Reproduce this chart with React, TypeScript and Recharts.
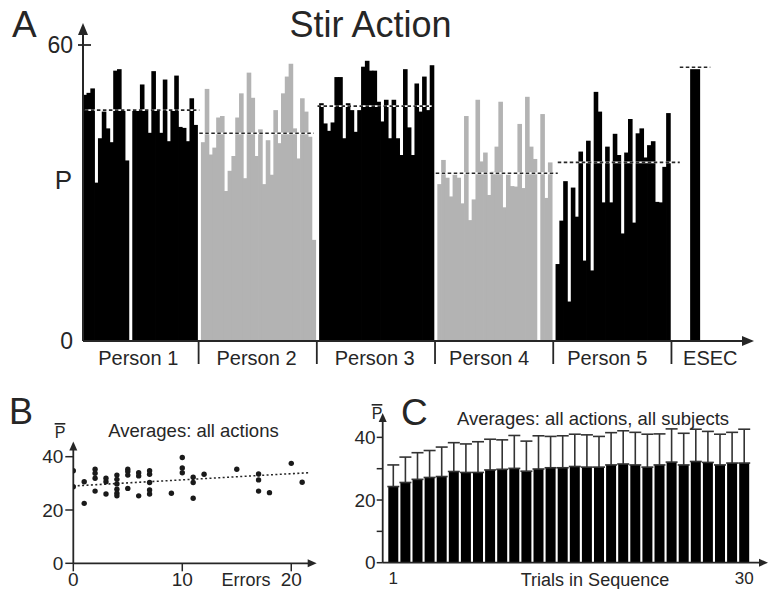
import React from 'react'
import {
	BarChart,
	Bar,
	XAxis,
	YAxis,
	ReferenceLine,
	ScatterChart,
	Scatter,
	ErrorBar,
} from 'recharts'

const ink = '#262626'
const gray = '#b3b3b3'
const font = '"Liberation Sans", Arial, Helvetica, sans-serif'

// Panel A: P for each of 30 trials, per subject
const person1 = [49.9, 50.3, 51.2, 32.1, 41.1, 46.5, 43.1, 40.3, 54.8, 55.1, 46.8, 36.6, 0, 46.8, 46.8, 52.0, 46.8, 42.2, 54.7, 46.8, 42.2, 53.0, 40.5, 46.8, 53.8, 43.4, 43.2, 40.5, 49.2, 43.8]
const person2 = [40.3, 51.1, 37.8, 39.2, 45.3, 45.6, 30.4, 34.5, 37.5, 45.3, 50.2, 33.0, 54.4, 49.3, 37.5, 42.9, 31.8, 40.7, 33.7, 46.8, 40.1, 50.2, 53.6, 56.2, 43.1, 37.0, 49.2, 46.5, 41.4, 20.5]
const person3 = [48.2, 44.1, 42.6, 44.3, 53.5, 53.5, 41.1, 48.2, 46.8, 42.4, 46.8, 55.6, 56.8, 54.8, 54.8, 48.5, 44.5, 48.9, 41.1, 48.9, 41.1, 37.7, 55.1, 43.3, 37.7, 52.2, 46.5, 53.6, 46.8, 55.9]
const person4 = [31.8, 36.7, 33.1, 29.3, 33.7, 33.1, 27.9, 45.6, 24.5, 28.7, 48.9, 36.4, 38.2, 29.6, 34.3, 39.4, 48.5, 27.1, 33.7, 31.4, 31.3, 44.0, 31.0, 49.5, 39.4, 36.9, 0, 46.0, 29.0, 36.2]
const person5 = [15.6, 24.4, 32.4, 8.0, 31.1, 25.2, 38.4, 16.3, 40.6, 14.3, 50.5, 46.5, 28.1, 39.4, 28.1, 42.0, 37.7, 21.8, 38.2, 45.0, 24.0, 42.1, 43.1, 37.2, 39.7, 40.5, 28.2, 28.1, 35.3, 46.2]
const esecValue = 55.1

// dashed averages (subject 1..5, ESEC) and the slots they span
const meanValues = [46.8, 42.1, 47.6, 34.0, 36.2, 55.5]
const meanFrom = [0, 30, 61, 92, 124, 156]
const meanTo = [30, 60, 91, 124, 156, 164]

const groupLabels: Record<number, string> = {
	14: 'Person 1',
	45: 'Person 2',
	76: 'Person 3',
	106: 'Person 4',
	137: 'Person 5',
	164: 'ESEC',
}
const separators = [30, 61, 92, 123, 154]

// Panel B: average P against number of errors
const errorsX = [0, 0, 1, 1, 2, 2, 2, 2, 3, 3, 3, 4, 4, 4, 4, 4, 4, 5, 5, 5, 5, 6, 6, 6, 7, 7, 7, 7, 7, 9, 10, 10, 10, 11, 11, 11, 12, 15, 17, 17, 17, 18, 20, 21]
const avgP = [34.7, 28.7, 30.6, 22.5, 35.3, 33.8, 31.9, 27.1, 31.9, 30.6, 26.0, 33.1, 31.5, 29.8, 27.8, 26.3, 25.3, 35.3, 34.4, 33.1, 28.1, 34.0, 32.8, 25.3, 34.7, 33.4, 30.3, 27.5, 26.0, 26.3, 39.7, 35.8, 34.0, 32.3, 30.3, 24.4, 33.4, 35.3, 33.5, 31.3, 27.1, 26.5, 37.5, 30.4]
const trendStart = [0, 29.0]
const trendEnd = [21.6, 34.0]

// Panel C: average P per trial position, with SD
const trialMeans = [24.3, 25.6, 26.6, 27.2, 27.5, 29.1, 28.8, 28.8, 29.6, 29.8, 30.1, 29.2, 29.9, 30.3, 30.3, 30.7, 30.5, 30.5, 31.2, 31.5, 31.2, 30.5, 31.2, 32.1, 31.2, 32.3, 32.0, 31.2, 31.8, 31.8]
const trialSD = [6.9, 8.1, 8.5, 8.6, 9.4, 9.2, 9.1, 9.8, 9.8, 9.4, 10.5, 9.6, 10.6, 10.0, 10.2, 10.3, 10.3, 9.8, 10.3, 10.6, 10.4, 10.5, 9.9, 10.6, 10.1, 10.3, 9.9, 9.8, 9.8, 10.8]

// one slot per trial, an empty slot between subjects, then ESEC
const stirData: { i: number; v: number | null; g: number; esec?: boolean }[] = []
;[person1, person2, person3, person4, person5].forEach((vals, g) => {
	vals.forEach((v) => stirData.push({ i: stirData.length, v, g }))
	stirData.push({ i: stirData.length, v: null, g: -1 })
})
while (stirData.length < 160) stirData.push({ i: stirData.length, v: null, g: -1 })
stirData.push({ i: stirData.length, v: esecValue, g: 5, esec: true })
while (stirData.length < 173) stirData.push({ i: stirData.length, v: null, g: -1 })

const scatterData = errorsX.map((x, k) => ({ x, y: avgP[k] }))
// only the upper half of the SD bar shows above the bars
const trialData = trialMeans.map((mean, k) => ({ trial: k + 1, mean, sd: [0, trialSD[k]] }))

// arrow heads at the axis ends: tip x, tip y, direction
const arrowHeads: [number, number, 'up' | 'right', number, number][] = [
	[83, 23, 'up', 12, 5],
	[754, 341, 'right', 12, 5],
	[73.3, 441.5, 'up', 9, 4],
	[316.7, 563.3, 'right', 9, 4],
	[382.7, 413, 'up', 9, 4],
	[768, 562.7, 'right', 9, 4],
]

const StirBar = (props: any) => {
	const { x, y, width, height, payload } = props
	if (!height || height <= 0) return null
	if (payload.esec) {
		const cx = x + width / 2
		return <rect x={cx - 5} y={y} width={10} height={height} fill='#000' />
	}
	const fill = payload.g === 1 || payload.g === 3 ? gray : '#000'
	return <rect x={x - 0.3} y={y} width={width + 0.6} height={height} fill={fill} />
}

const PersonTick = (props: any) => {
	const { x, y, payload } = props
	const label = groupLabels[payload.value]
	if (label)
		return (
			<text x={x} y={y + 24} textAnchor='middle' fontSize={20} fill={ink} fontFamily={font}>
				{label}
			</text>
		)
	if (separators.includes(payload.value))
		return <line x1={x - 0.7} x2={x - 0.7} y1={y} y2={y + 23} stroke={ink} strokeWidth={1.8} />
	return <g />
}

const StirYTick = (props: any) => {
	const { x, y, payload } = props
	return (
		<g>
			{payload.value === 60 && (
				<line x1={x - 5} x2={x + 8} y1={y} y2={y} stroke={ink} strokeWidth={1.8} />
			)}
			<text x={x - 10} y={y} dy='0.35em' textAnchor='end' fontSize={23} fill={ink} fontFamily={font}>
				{payload.value}
			</text>
		</g>
	)
}

const Dot = (props: any) => <circle cx={props.cx} cy={props.cy} r={2.7} fill='#1a1a1a' />

const tickFont = (size: number) => ({ fontSize: size, fill: ink, fontFamily: font })

export default function App() {
	return (
		<div style={{ position: 'absolute', left: 0, top: 0, width: 769, height: 589, background: '#fff' }}>
			{/* A: Stir action */}
			<div style={{ position: 'absolute', left: 0, top: 0 }}>
				<BarChart
					width={769}
					height={375}
					data={stirData}
					margin={{ top: 34, right: 26.3, bottom: 0, left: 0 }}
					barCategoryGap={0}
					barGap={0}>
					<XAxis
						dataKey='i'
						interval={0}
						height={34}
						tickLine={false}
						tickSize={0}
						tickMargin={0}
						tick={<PersonTick />}
						axisLine={{ stroke: ink, strokeWidth: 2 }}
					/>
					<YAxis
						width={83}
						domain={[0, 62.23]}
						ticks={[0, 60]}
						allowDataOverflow
						tickLine={false}
						tickSize={0}
						tickMargin={0}
						tick={<StirYTick />}
						axisLine={{ stroke: ink, strokeWidth: 2 }}
					/>
					<Bar dataKey='v' isAnimationActive={false} shape={StirBar} />
					{meanValues.map((m, k) => (
						<ReferenceLine
							key={`w-${k}`}
							segment={[{ x: meanFrom[k], y: m }, { x: meanTo[k], y: m }]}
							stroke='#fff'
							strokeWidth={1.8}
						/>
					))}
					{meanValues.map((m, k) => (
						<ReferenceLine
							key={`d-${k}`}
							segment={[{ x: meanFrom[k], y: m }, { x: meanTo[k], y: m }]}
							stroke={ink}
							strokeWidth={1.6}
							strokeDasharray='3.5 2.5'
						/>
					))}
				</BarChart>
			</div>

			{/* B: averages vs errors */}
			<div style={{ position: 'absolute', left: 0, top: 400 }}>
				<ScatterChart width={330} height={189} margin={{ top: 49.5, right: 21.3, bottom: 0, left: 0 }}>
					<XAxis
						type='number'
						dataKey='x'
						domain={[0, 21.6]}
						ticks={[0, 10, 20]}
						allowDataOverflow
						height={25.7}
						tickSize={8}
						tickMargin={1}
						tick={tickFont(19)}
						tickLine={{ stroke: ink, strokeWidth: 1.5 }}
						axisLine={{ stroke: ink, strokeWidth: 1.8 }}
					/>
					<YAxis
						type='number'
						dataKey='y'
						width={73.3}
						domain={[0, 42.7]}
						ticks={[0, 20, 40]}
						allowDataOverflow
						tickSize={8}
						tickMargin={2}
						tick={tickFont(19)}
						tickLine={{ stroke: ink, strokeWidth: 1.5 }}
						axisLine={{ stroke: ink, strokeWidth: 1.8 }}
					/>
					<ReferenceLine
						segment={[
							{ x: trendStart[0], y: trendStart[1] },
							{ x: trendEnd[0], y: trendEnd[1] },
						]}
						stroke={ink}
						strokeWidth={1.6}
						strokeDasharray='2 2.4'
					/>
					<Scatter data={scatterData} isAnimationActive={false} shape={Dot} />
				</ScatterChart>
			</div>

			{/* C: averages per trial */}
			<div style={{ position: 'absolute', left: 330, top: 400 }}>
				<BarChart width={439} height={189} data={trialData} margin={{ top: 22, right: 9, bottom: 0, left: 0 }}>
					<XAxis
						dataKey='trial'
						interval={0}
						padding={{ left: 4.6, right: 9.7 }}
						height={26.3}
						tickLine={false}
						tickSize={0}
						tickMargin={9}
						tick={tickFont(17)}
						tickFormatter={(v: number) => (v === 1 || v === 30 ? String(v) : '')}
						axisLine={{ stroke: ink, strokeWidth: 1.8 }}
					/>
					<YAxis
						width={52.7}
						domain={[0, 44.9]}
						ticks={[0, 10, 20, 30, 40]}
						allowDataOverflow
						tickSize={6}
						tickMargin={1}
						tick={tickFont(19)}
						tickFormatter={(v: number) => (v % 20 === 0 ? String(v) : '')}
						tickLine={{ stroke: ink, strokeWidth: 1.5 }}
						axisLine={{ stroke: ink, strokeWidth: 1.8 }}
					/>
					<Bar dataKey='mean' fill='#000' barSize={10} isAnimationActive={false}>
						<ErrorBar dataKey='sd' width={6} stroke='#333' strokeWidth={1.6} direction='y' />
					</Bar>
				</BarChart>
			</div>

			{/* panel letters, titles, axis names and arrow heads */}
			<svg
				width={769}
				height={589}
				style={{ position: 'absolute', left: 0, top: 0, pointerEvents: 'none' }}
				fontFamily={font}
				fill={ink}>
				{arrowHeads.map(([tx, ty, dir, len, half], k) =>
					dir === 'up' ? (
						<path key={k} d={`M${tx},${ty} L${tx - half},${ty + len} L${tx + half},${ty + len} z`} fill={ink} />
					) : (
						<path key={k} d={`M${tx},${ty} L${tx - len},${ty - half} L${tx - len},${ty + half} z`} fill={ink} />
					)
				)}
				<text x={12} y={37} fontSize={37}>A</text>
				<text x={370.5} y={37} fontSize={36} textAnchor='middle'>Stir Action</text>
				<text x={63.5} y={189} fontSize={26} textAnchor='middle'>P</text>

				<text x={9} y={424} fontSize={36}>B</text>
				<text x={60} y={438} fontSize={16} textAnchor='middle' style={{ textDecoration: 'overline' }}>P</text>
				<text x={193.5} y={437} fontSize={18.5} textAnchor='middle'>Averages: all actions</text>
				<text x={246} y={586} fontSize={18} textAnchor='middle'>Errors</text>

				<text x={401} y={425} fontSize={37}>C</text>
				<text x={377} y={419} fontSize={16} textAnchor='middle' style={{ textDecoration: 'overline' }}>P</text>
				<text x={593} y={425} fontSize={18.5} textAnchor='middle'>Averages: all actions, all subjects</text>
				<text x={595} y={586} fontSize={18} textAnchor='middle'>Trials in Sequence</text>
			</svg>
		</div>
	)
}
